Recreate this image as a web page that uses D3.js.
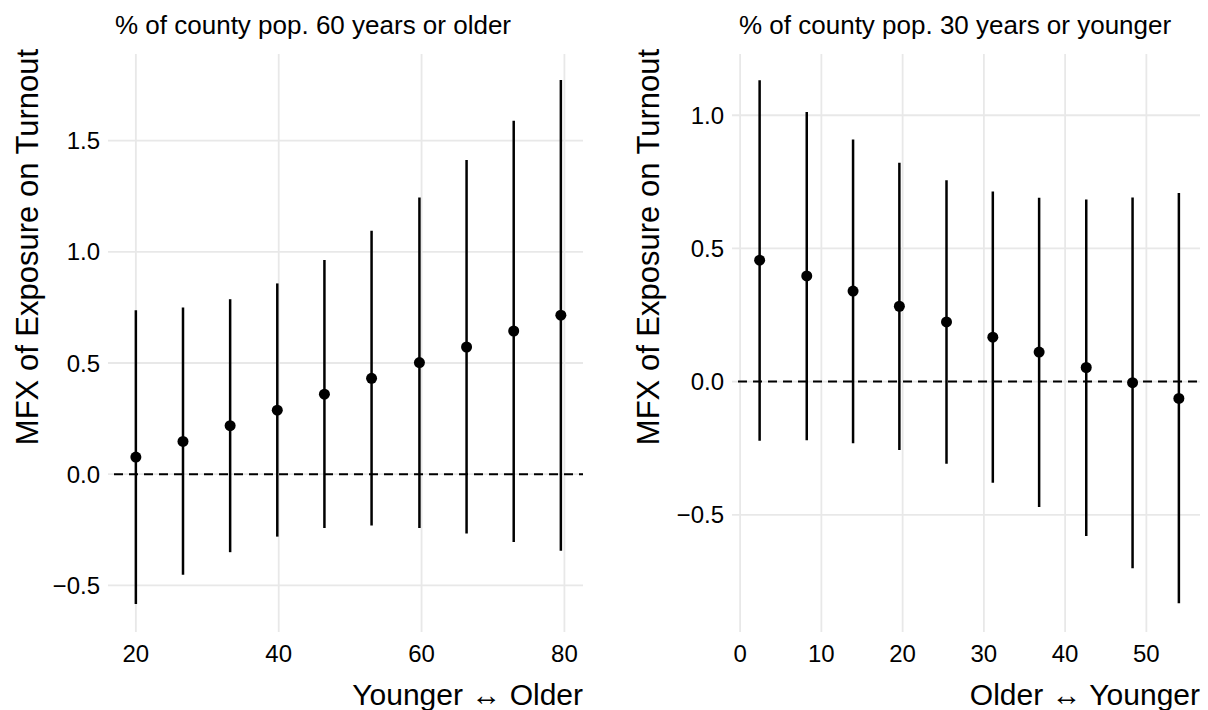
<!DOCTYPE html>
<html>
<head>
<meta charset="utf-8">
<script src="https://cdn.jsdelivr.net/npm/d3@7"></script>
<style>
  body { margin: 0; background: #fff; }
  svg text { font-family: "Liberation Sans", Arial, Helvetica, sans-serif; fill: #000; }
</style>
</head>
<body>
<div id="chart"></div>
<script>
// Left panel: share of county population 60 or older
const olderX = [20.0, 26.6, 33.2, 39.8, 46.4, 53.0, 59.7, 66.3, 72.9, 79.5];
const olderEst = [0.077, 0.147, 0.218, 0.288, 0.360, 0.431, 0.502, 0.572, 0.644, 0.715];
const olderLo = [-0.584, -0.453, -0.351, -0.281, -0.242, -0.231, -0.242, -0.267, -0.305, -0.345];
const olderHi = [0.737, 0.750, 0.787, 0.858, 0.963, 1.095, 1.245, 1.413, 1.590, 1.773];
const olderXTicks = [20, 40, 60, 80];
const olderYTicks = [-0.5, 0, 0.5, 1.0, 1.5];

// Right panel: share of county population 30 or younger
const youngX = [2.4, 8.2, 13.9, 19.6, 25.4, 31.1, 36.8, 42.6, 48.3, 54.0];
const youngEst = [0.456, 0.397, 0.340, 0.283, 0.224, 0.167, 0.111, 0.053, -0.004, -0.063];
const youngLo = [-0.222, -0.220, -0.231, -0.257, -0.308, -0.380, -0.471, -0.580, -0.701, -0.832];
const youngHi = [1.131, 1.012, 0.909, 0.822, 0.756, 0.714, 0.690, 0.684, 0.691, 0.708];
const youngXTicks = [0, 10, 20, 30, 40, 50];
const youngYTicks = [-0.5, 0, 0.5, 1.0];

const yTitle = "MFX of Exposure on Turnout";

const svg = d3.select("#chart").append("svg")
    .attr("width", 1208)
    .attr("height", 710);

function drawPanel(opts) {
    const x = d3.scaleLinear().domain(opts.xDomain).range([opts.left, opts.right]);
    const y = d3.scaleLinear().domain(opts.yDomain).range([632, 54]);
    const g = svg.append("g");

    // grid lines
    g.selectAll(".vgrid")
        .data(opts.xTicks)
        .enter()
        .append("line")
        .attr("x1", d => x(d)).attr("x2", d => x(d))
        .attr("y1", y.range()[0]).attr("y2", y.range()[1])
        .attr("stroke", "#e8e8e8")
        .attr("stroke-width", 1.8);

    g.selectAll(".hgrid")
        .data(opts.yTicks)
        .enter()
        .append("line")
        .attr("x1", opts.left).attr("x2", opts.right)
        .attr("y1", d => y(d)).attr("y2", d => y(d))
        .attr("stroke", "#e8e8e8")
        .attr("stroke-width", 1.8);

    // tick labels
    g.selectAll(".xlab")
        .data(opts.xTicks)
        .enter()
        .append("text")
        .attr("x", d => x(d))
        .attr("y", 662)
        .attr("text-anchor", "middle")
        .attr("font-size", 24)
        .text(d => d);

    g.selectAll(".ylab")
        .data(opts.yTicks)
        .enter()
        .append("text")
        .attr("x", opts.left - 8)
        .attr("y", d => y(d))
        .attr("dy", "0.36em")
        .attr("text-anchor", "end")
        .attr("font-size", 24)
        .text(d => d3.format(".1f")(d));

    // zero reference line
    g.append("line")
        .attr("x1", opts.left).attr("x2", opts.right)
        .attr("y1", y(0)).attr("y2", y(0))
        .attr("stroke", "#000")
        .attr("stroke-width", 2)
        .attr("stroke-dasharray", "9 6")
        .attr("stroke-dashoffset", 9);

    // intervals
    const idx = d3.range(opts.xs.length);
    g.selectAll(".ci")
        .data(idx)
        .enter()
        .append("line")
        .attr("x1", i => x(opts.xs[i])).attr("x2", i => x(opts.xs[i]))
        .attr("y1", i => y(opts.lo[i])).attr("y2", i => y(opts.hi[i]))
        .attr("stroke", "#000")
        .attr("stroke-width", 2.5);

    g.selectAll(".pt")
        .data(idx)
        .enter()
        .append("circle")
        .attr("cx", i => x(opts.xs[i]))
        .attr("cy", i => y(opts.est[i]))
        .attr("r", 5.5)
        .attr("fill", "#000");

    // titles
    g.append("text")
        .attr("x", x(opts.xDomain[0]) + (opts.titleShift || 0))
        .attr("y", 34)
        .attr("font-size", 26)
        .text(opts.title);

    g.append("text")
        .attr("x", opts.right)
        .attr("y", 705)
        .attr("text-anchor", "end")
        .attr("font-size", 30)
        .text(opts.xTitle);

    g.append("text")
        .attr("transform", `translate(${opts.yTitleX},247) rotate(-90)`)
        .attr("text-anchor", "middle")
        .attr("dy", "0.35em")
        .attr("font-size", 31)
        .text(yTitle);
}

drawPanel({
    xs: olderX, est: olderEst, lo: olderLo, hi: olderHi,
    xTicks: olderXTicks, yTicks: olderYTicks,
    xDomain: [16.1, 82.6], yDomain: [-0.71, 1.89],
    left: 108, right: 583, titleShift: 7,
    yTitleX: 27,
    title: "% of county pop. 60 years or older",
    xTitle: "Younger \u2194 Older"
});

drawPanel({
    xs: youngX, est: youngEst, lo: youngLo, hi: youngHi,
    xTicks: youngXTicks, yTicks: youngYTicks,
    xDomain: [-1.0, 56.6], yDomain: [-0.94, 1.23],
    left: 732, right: 1200, titleShift: 7,
    yTitleX: 648,
    title: "% of county pop. 30 years or younger",
    xTitle: "Older \u2194 Younger"
});
</script>
</body>
</html>
